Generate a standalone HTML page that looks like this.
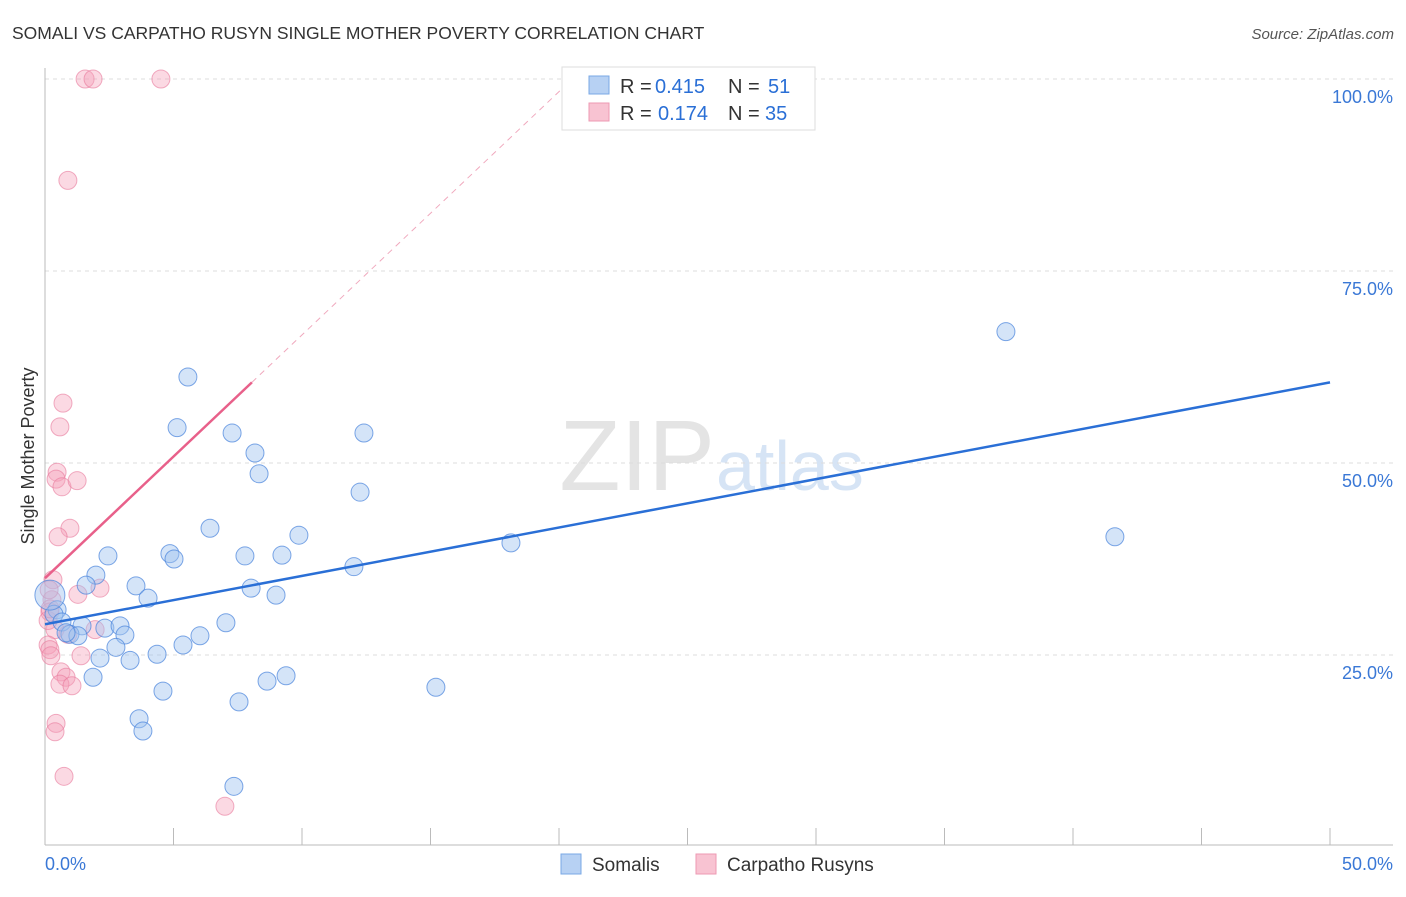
<!DOCTYPE html>
<html><head><meta charset="utf-8"><style>
body{margin:0;background:#fff;font-family:"Liberation Sans",sans-serif}
svg text{font-family:"Liberation Sans",sans-serif}
</style></head><body>
<svg id="chart" width="1406" height="892" xmlns="http://www.w3.org/2000/svg">
<text x="12" y="39" font-size="17.5" fill="#333">SOMALI VS CARPATHO RUSYN SINGLE MOTHER POVERTY CORRELATION CHART</text>
<text x="1394" y="39" font-size="15" fill="#555" text-anchor="end" font-style="italic">Source: ZipAtlas.com</text>
<text x="715" y="490" font-size="100" fill="#e4e4e4" text-anchor="end" font-family="Liberation Serif">ZIP</text>
<text x="716" y="490" font-size="70" fill="#d6e4f5">atlas</text>
<text transform="translate(34,456) rotate(-90)" font-size="18" fill="#333" text-anchor="middle">Single Mother Poverty</text>
<g id="grid"></g><g id="marks"></g>
<g>
<rect x="562" y="67" width="253" height="63" fill="#fff" stroke="#ddd"/>
<rect x="589" y="76" width="20" height="18" fill="#b7d1f3" stroke="#7aa8e6"/>
<rect x="589" y="103" width="20" height="18" fill="#f8c3d2" stroke="#ee9ab3"/>
<text x="620" y="93" font-size="20" fill="#333">R =</text>
<text x="655" y="93" font-size="20" fill="#2a6fd6">0.415</text>
<text x="728" y="93" font-size="20" fill="#333">N =</text>
<text x="768" y="93" font-size="20" fill="#2a6fd6">51</text>
<text x="620" y="120" font-size="20" fill="#333">R =</text>
<text x="658" y="120" font-size="20" fill="#2a6fd6">0.174</text>
<text x="728" y="120" font-size="20" fill="#333">N =</text>
<text x="765" y="120" font-size="20" fill="#2a6fd6">35</text>
</g>
<g>
<rect x="561" y="854" width="20" height="20" fill="#b7d1f3" stroke="#7aa8e6"/>
<text x="592" y="871" font-size="19" fill="#333">Somalis</text>
<rect x="696" y="854" width="20" height="20" fill="#f8c3d2" stroke="#ee9ab3"/>
<text x="727" y="871" font-size="19" fill="#333">Carpatho Rusyns</text>
</g>
</svg>
<script>
const blueX=[5.56,5.14,7.28,8.17,8.33,12.41,12.26,37.39,41.63,18.13,6.42,9.88,2.45,4.86,5.02,7.78,9.22,12.02,1.98,3.54,1.60,8.02,4.01,8.99,0.47,0.35,0.66,1.44,2.33,2.92,3.11,0.97,1.28,7.04,6.03,2.76,5.37,4.36,2.14,3.31,1.87,9.38,8.64,4.59,15.21,7.55,3.66,3.81,7.35,0.19,0.82];
const blueY=[61.2,54.6,53.9,51.3,48.6,53.9,46.2,67.1,40.4,39.6,41.5,40.6,37.9,38.2,37.5,37.9,38.0,36.5,35.4,34.0,34.1,33.7,32.4,32.8,30.9,30.3,29.3,28.8,28.5,28.8,27.6,27.7,27.5,29.2,27.5,26.0,26.3,25.1,24.6,24.3,22.1,22.3,21.6,20.3,20.8,18.9,16.7,15.1,7.9,32.8,27.9];
const pinkX=[1.56,1.87,4.51,0.89,0.70,0.58,0.47,0.43,0.66,1.25,0.97,0.51,0.31,2.14,1.28,0.27,0.19,0.39,0.89,0.12,0.19,0.23,1.40,0.62,0.82,0.58,1.05,0.43,0.39,0.74,7.00,0.16,1.95,0.12,0.2];
const pinkY=[100,100,100,86.8,57.8,54.7,48.8,47.9,46.9,47.7,41.5,40.4,34.8,33.7,32.9,32.2,30.6,28.3,27.7,26.3,25.7,24.9,24.9,22.8,22.1,21.2,21.0,16.1,15.0,9.2,5.3,33.5,28.3,29.5,31.0];
const yTicks=[25,50,75,100];
const blueTrend=[29.0,60.5];
const pinkTrend=[35.0,60.5,8.05];
const X=v=>45+v*25.7, Y=v=>847-v*7.68;
const NS="http://www.w3.org/2000/svg";
function mk(p,t,a){const e=document.createElementNS(NS,t);for(const k in a)e.setAttribute(k,a[k]);p.appendChild(e);return e;}
const g=document.getElementById('grid'), m=document.getElementById('marks');
yTicks.forEach(t=>{
 const l=mk(g,'line',{x1:45,x2:1393,y1:Y(t),y2:Y(t),stroke:'#ddd','stroke-dasharray':'4,4'});
 
 
 const tx=mk(g,'text',{x:1393,y:Y(t)+24,'font-size':18,fill:'#3a78d6','text-anchor':'end'});tx.textContent=t.toFixed(1)+'%';
 
 
});
mk(g,'line',{x1:45,x2:45,y1:68,y2:845,stroke:'#bbb'});
mk(g,'line',{x1:45,x2:1393,y1:845,y2:845,stroke:'#bbb'});
for(let i=0;i<=10;i++){const l=mk(g,'line',{x1:X(i*5),x2:X(i*5),y1:828,y2:845,stroke:'#bbb'});
 
 }
const t0=mk(g,'text',{x:45,y:870,'font-size':18,fill:'#3a78d6'});t0.textContent='0.0%';


const t1=mk(g,'text',{x:1393,y:870,'font-size':18,fill:'#3a78d6','text-anchor':'end'});t1.textContent='50.0%';


pinkX.forEach((x,i)=>{const c=mk(m,'circle',{cx:X(x),cy:Y(pinkY[i]),r:9,fill:'rgba(244,160,186,0.4)',stroke:'rgba(232,120,155,0.6)'});
 
 });
blueX.forEach((x,i)=>{const c=mk(m,'circle',{cx:X(x),cy:Y(blueY[i]),r:(i==49?15:9),fill:'rgba(160,195,240,0.45)',stroke:'rgba(70,130,220,0.7)'});
 
 });
const slope=(pinkTrend[1]-pinkTrend[0])/pinkTrend[2];
const xEnd=(100-pinkTrend[0])/slope;
const pd=mk(m,'line',{x1:X(pinkTrend[2]),y1:Y(pinkTrend[1]),x2:X(xEnd),y2:Y(100),stroke:'#f0a8bd','stroke-dasharray':'6,5'});


const pl=mk(m,'line',{x1:X(0),y1:Y(pinkTrend[0]),x2:X(pinkTrend[2]),y2:Y(pinkTrend[1]),stroke:'#e8608a','stroke-width':2.5});


const bl=mk(m,'line',{x1:X(0),y1:Y(blueTrend[0]),x2:X(50),y2:Y(blueTrend[1]),stroke:'#2a6fd6','stroke-width':2.5});


</script>
</body></html>
